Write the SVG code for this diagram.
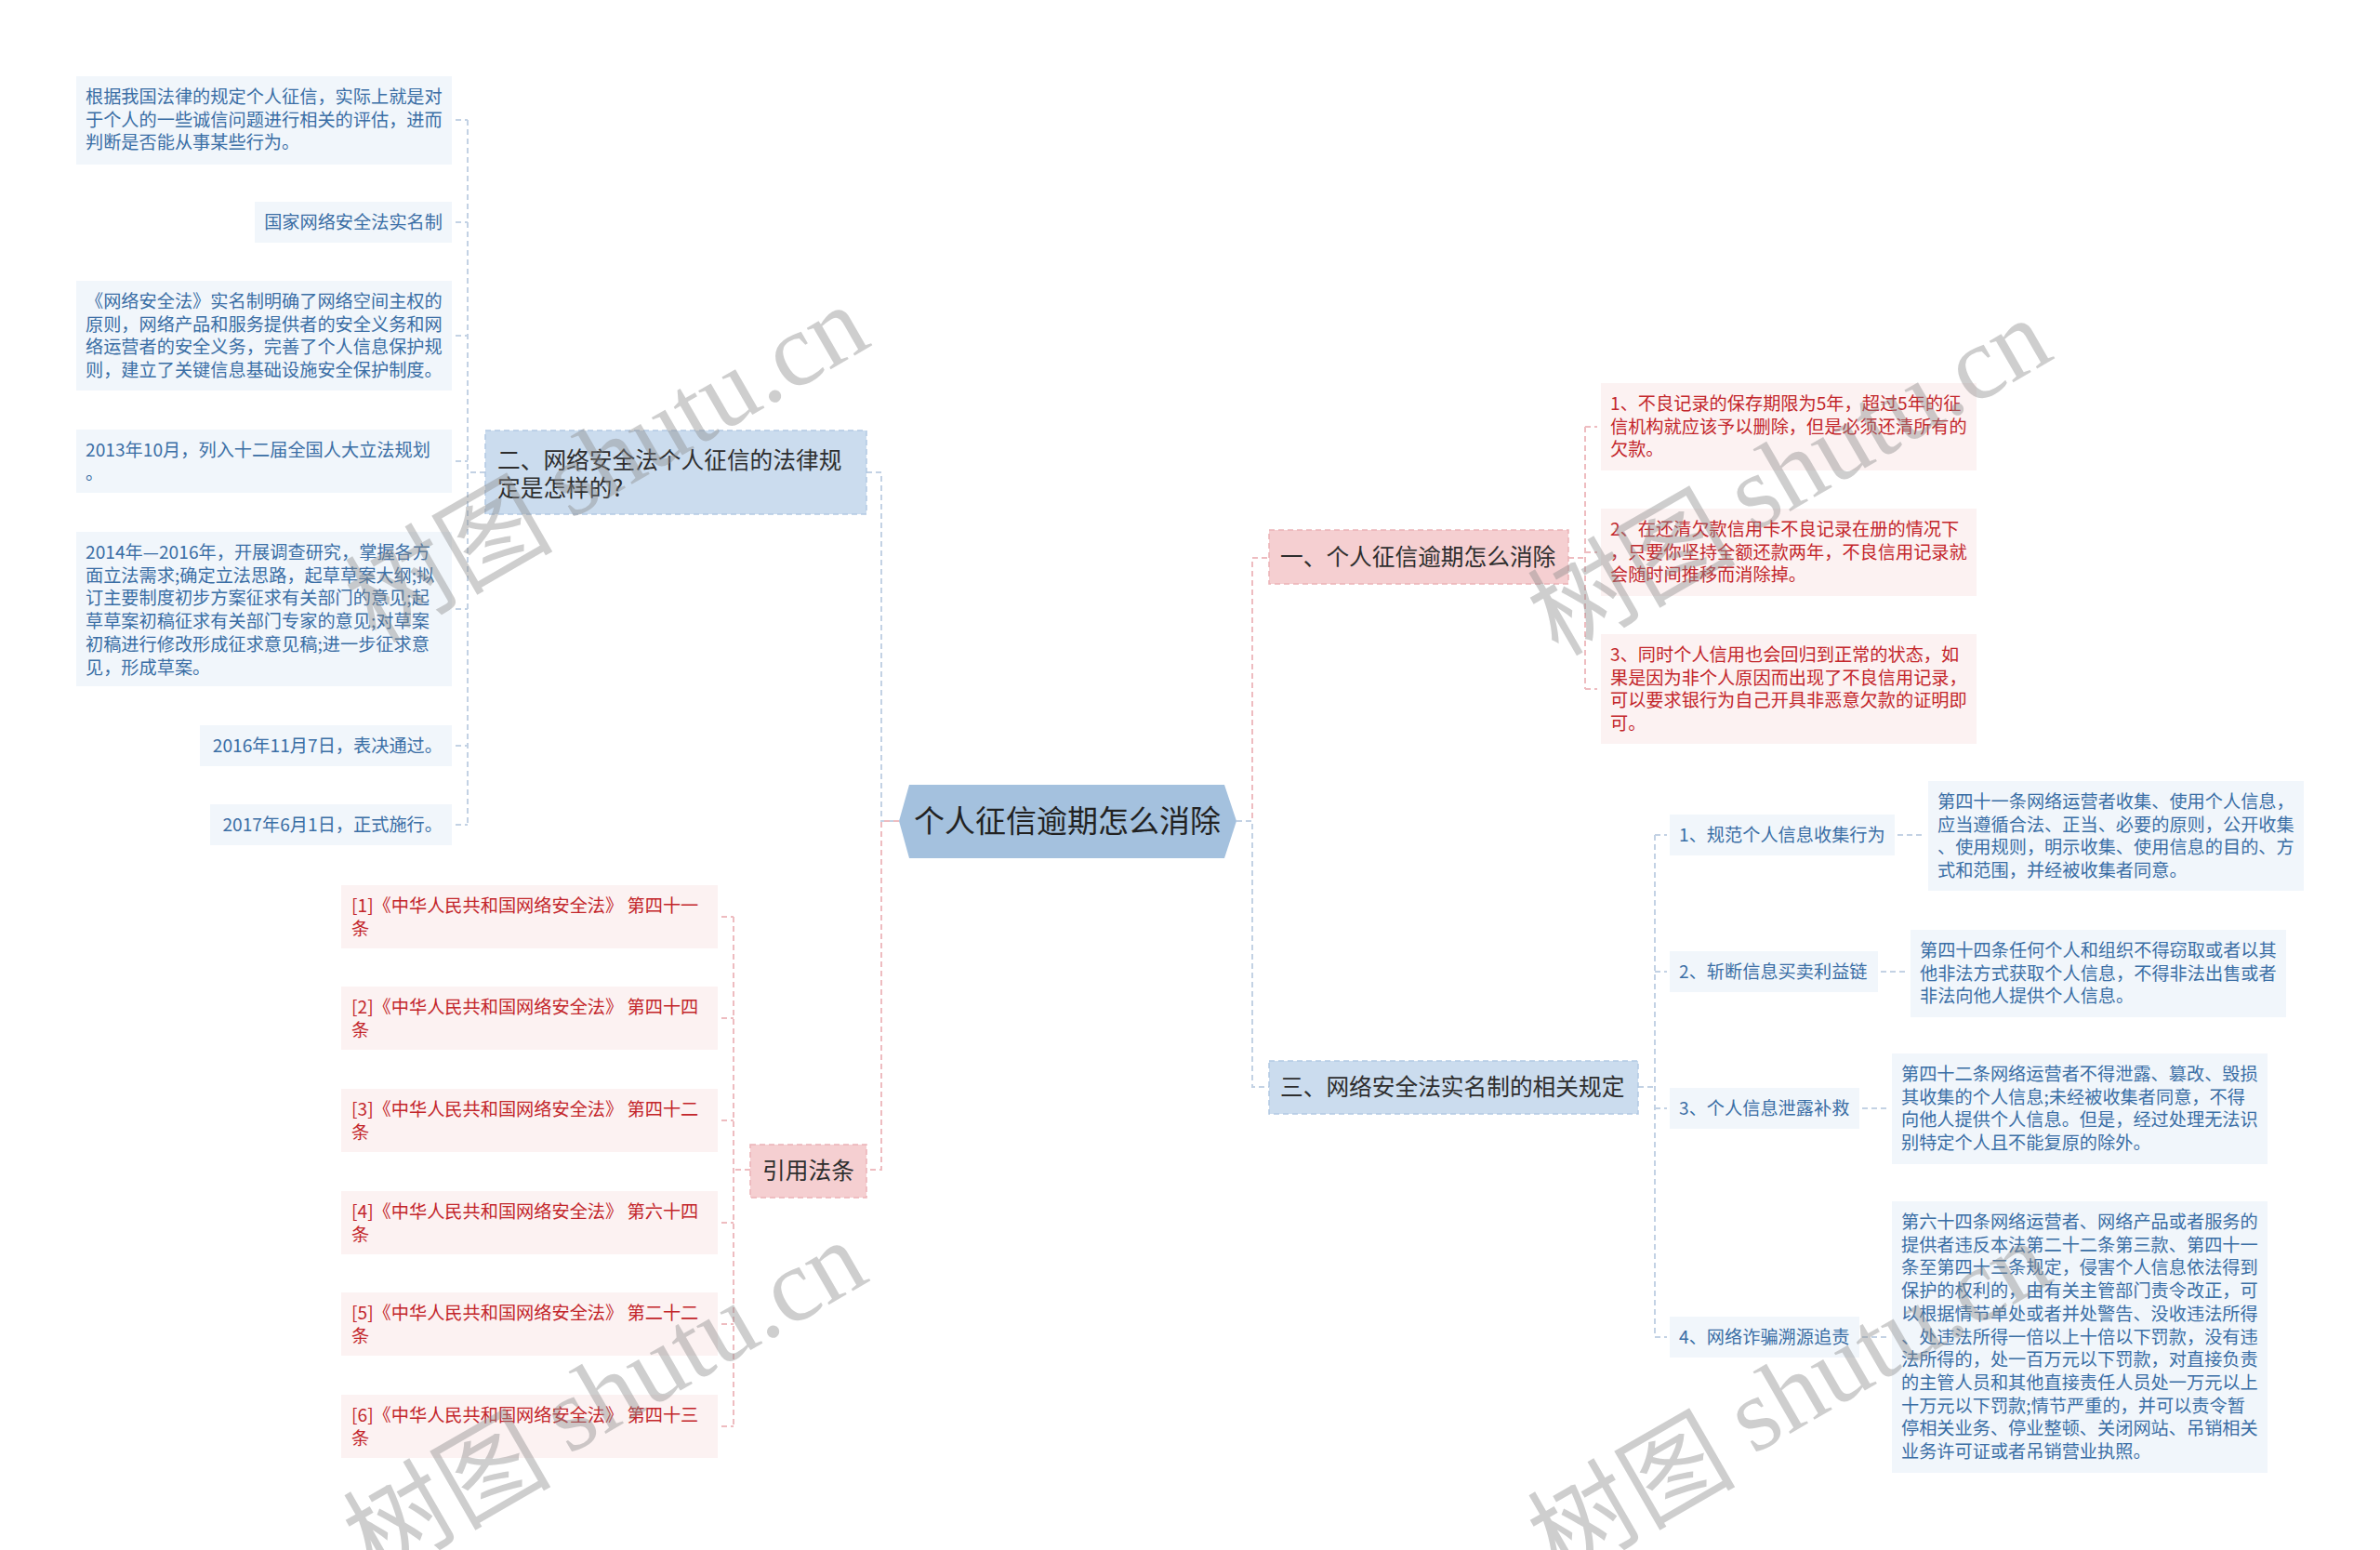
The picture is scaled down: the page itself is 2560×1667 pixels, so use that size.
<svg xmlns="http://www.w3.org/2000/svg" width="2560" height="1667" viewBox="0 0 2560 1667">
<style>
text{font-family:"Noto Sans CJK SC","Noto Sans",sans-serif;}
.bleaf{fill:#f1f6fb;}
.rleaf{fill:#fcf2f2;}
.bt{font-size:19.2px;fill:#3a6ea5;}
.rt{font-size:19.2px;fill:#c3262b;}
.l1b{fill:#cbdcee;stroke:#b2c9e3;stroke-width:1.5;stroke-dasharray:6 4;}
.l1r{fill:#f5cfd1;stroke:#ecb3b7;stroke-width:1.5;stroke-dasharray:6 4;}
.l1t{font-size:24.7px;fill:#2e2e2e;}
.cb{fill:none;stroke:#c3d2e4;stroke-width:2;stroke-dasharray:6 4;}
.cr{fill:none;stroke:#eebcc0;stroke-width:2;stroke-dasharray:6 4;}
.wm{font-family:"Noto Sans CJK SC","Liberation Serif",serif;font-size:112px;fill:#8a8a8a;fill-opacity:0.42;}
</style>

<g id="connectors">
  <!-- central left -->
  <path class="cb" d="M932 508 H948 V883 H967"/>
  <path class="cr" d="M967 883 H948 V1258 H932"/>
  <!-- central right -->
  <path class="cr" d="M1330 883 H1347 V600 H1365"/>
  <path class="cb" d="M1330 883 H1347 V1169 H1365"/>
  <!-- 二 children -->
  <path class="cb" d="M522 508 H503"/>
  <path class="cb" d="M503 129 V887"/>
  <path class="cb" d="M490 129 H503 M490 239 H503 M490 361 H503 M490 496 H503 M490 655 H503 M490 802 H503 M490 887 H503"/>
  <!-- 引用法条 children -->
  <path class="cr" d="M807 1258 H789"/>
  <path class="cr" d="M789 986 V1534"/>
  <path class="cr" d="M776 986 H789 M776 1095 H789 M776 1205 H789 M776 1315 H789 M776 1424 H789 M776 1534 H789"/>
  <!-- 一 children -->
  <path class="cr" d="M1687 600 H1705"/>
  <path class="cr" d="M1705 459 V741"/>
  <path class="cr" d="M1705 459 H1718 M1705 594 H1718 M1705 741 H1718"/>
  <!-- 三 children -->
  <path class="cb" d="M1762 1169 H1780"/>
  <path class="cb" d="M1780 898 V1438"/>
  <path class="cb" d="M1780 898 H1793 M1780 1045 H1793 M1780 1192 H1793 M1780 1438 H1793"/>
  <path class="cb" d="M2041 898 H2071 M2023 1045 H2052 M2003 1192 H2032 M2003 1438 H2032"/>
</g>

<g id="center">
  <polygon points="967,883 978,844 1317,844 1330,883 1317,923 978,923" fill="#a4c1de"/>
  <text x="1148" y="895" text-anchor="middle" style="font-size:33px;fill:#222">个人征信逾期怎么消除</text>
</g>

<g id="n2">
  <rect class="l1b" x="522" y="463" width="410" height="90"/>
  <text class="l1t"><tspan x="535" y="503.5">二、网络安全法个人征信的法律规</tspan><tspan x="535" y="533.5">定是怎样的?</tspan></text>
</g>
<g id="n2-1">
  <rect class="bleaf" x="82" y="82" width="404" height="95"/>
  <text class="bt"><tspan x="92" y="111">根据我国法律的规定个人征信，实际上就是对</tspan><tspan x="92" y="135.7">于个人的一些诚信问题进行相关的评估，进而</tspan><tspan x="92" y="160.4">判断是否能从事某些行为。</tspan></text>
</g>
<g id="n2-2">
  <rect class="bleaf" x="274" y="217" width="212" height="44"/>
  <text class="bt" x="476" y="246" text-anchor="end">国家网络安全法实名制</text>
</g>
<g id="n2-3">
  <rect class="bleaf" x="82" y="302" width="404" height="118"/>
  <text class="bt"><tspan x="92" y="331">《网络安全法》实名制明确了网络空间主权的</tspan><tspan x="92" y="355.7">原则，网络产品和服务提供者的安全义务和网</tspan><tspan x="92" y="380.4">络运营者的安全义务，完善了个人信息保护规</tspan><tspan x="92" y="405.1">则，建立了关键信息基础设施安全保护制度。</tspan></text>
</g>
<g id="n2-4">
  <rect class="bleaf" x="82" y="462" width="404" height="68"/>
  <text class="bt"><tspan x="92" y="491">2013年10月，列入十二届全国人大立法规划</tspan><tspan x="92" y="515.7">。</tspan></text>
</g>
<g id="n2-5">
  <rect class="bleaf" x="82" y="572" width="404" height="166"/>
  <text class="bt"><tspan x="92" y="601">2014年—2016年，开展调查研究，掌握各方</tspan><tspan x="92" y="625.7">面立法需求;确定立法思路，起草草案大纲;拟</tspan><tspan x="92" y="650.4">订主要制度初步方案征求有关部门的意见;起</tspan><tspan x="92" y="675.1">草草案初稿征求有关部门专家的意见;对草案</tspan><tspan x="92" y="699.8">初稿进行修改形成征求意见稿;进一步征求意</tspan><tspan x="92" y="724.5">见，形成草案。</tspan></text>
</g>
<g id="n2-6">
  <rect class="bleaf" x="215" y="780" width="271" height="44"/>
  <text class="bt" x="476" y="809" text-anchor="end">2016年11月7日，表决通过。</text>
</g>
<g id="n2-7">
  <rect class="bleaf" x="226" y="865" width="260" height="44"/>
  <text class="bt" x="476" y="894" text-anchor="end">2017年6月1日，正式施行。</text>
</g>

<g id="refs">
  <rect class="l1r" x="807" y="1231" width="125" height="57"/>
  <text class="l1t" x="869.5" y="1268" text-anchor="middle">引用法条</text>
</g>
<g id="ref1">
  <rect class="rleaf" x="367" y="952" width="405" height="68"/>
  <text class="rt"><tspan x="378" y="981">[1]《中华人民共和国网络安全法》 第四十一</tspan><tspan x="378" y="1005.7">条</tspan></text>
</g>
<g id="ref2">
  <rect class="rleaf" x="367" y="1061" width="405" height="68"/>
  <text class="rt"><tspan x="378" y="1090">[2]《中华人民共和国网络安全法》 第四十四</tspan><tspan x="378" y="1114.7">条</tspan></text>
</g>
<g id="ref3">
  <rect class="rleaf" x="367" y="1171" width="405" height="68"/>
  <text class="rt"><tspan x="378" y="1200">[3]《中华人民共和国网络安全法》 第四十二</tspan><tspan x="378" y="1224.7">条</tspan></text>
</g>
<g id="ref4">
  <rect class="rleaf" x="367" y="1281" width="405" height="68"/>
  <text class="rt"><tspan x="378" y="1310">[4]《中华人民共和国网络安全法》 第六十四</tspan><tspan x="378" y="1334.7">条</tspan></text>
</g>
<g id="ref5">
  <rect class="rleaf" x="367" y="1390" width="405" height="68"/>
  <text class="rt"><tspan x="378" y="1419">[5]《中华人民共和国网络安全法》 第二十二</tspan><tspan x="378" y="1443.7">条</tspan></text>
</g>
<g id="ref6">
  <rect class="rleaf" x="367" y="1500" width="405" height="68"/>
  <text class="rt"><tspan x="378" y="1529">[6]《中华人民共和国网络安全法》 第四十三</tspan><tspan x="378" y="1553.7">条</tspan></text>
</g>

<g id="n1">
  <rect class="l1r" x="1365" y="570" width="322" height="58"/>
  <text class="l1t" x="1377" y="608">一、个人征信逾期怎么消除</text>
</g>
<g id="n1-1">
  <rect class="rleaf" x="1722" y="412" width="404" height="94"/>
  <text class="rt"><tspan x="1732" y="441">1、不良记录的保存期限为5年，超过5年的征</tspan><tspan x="1732" y="465.7">信机构就应该予以删除，但是必须还清所有的</tspan><tspan x="1732" y="490.4">欠款。</tspan></text>
</g>
<g id="n1-2">
  <rect class="rleaf" x="1722" y="547" width="404" height="94"/>
  <text class="rt"><tspan x="1732" y="576">2、在还清欠款信用卡不良记录在册的情况下</tspan><tspan x="1732" y="600.7">，只要你坚持全额还款两年，不良信用记录就</tspan><tspan x="1732" y="625.4">会随时间推移而消除掉。</tspan></text>
</g>
<g id="n1-3">
  <rect class="rleaf" x="1722" y="682" width="404" height="118"/>
  <text class="rt"><tspan x="1732" y="711">3、同时个人信用也会回归到正常的状态，如</tspan><tspan x="1732" y="735.7">果是因为非个人原因而出现了不良信用记录，</tspan><tspan x="1732" y="760.4">可以要求银行为自己开具非恶意欠款的证明即</tspan><tspan x="1732" y="785.1">可。</tspan></text>
</g>

<g id="n3">
  <rect class="l1b" x="1365" y="1141" width="397" height="57"/>
  <text class="l1t" x="1377" y="1178">三、网络安全法实名制的相关规定</text>
</g>
<g id="n3-1">
  <rect class="bleaf" x="1796" y="876" width="242" height="44"/>
  <text class="bt" x="1806" y="905">1、规范个人信息收集行为</text>
</g>
<g id="n3-1-1">
  <rect class="bleaf" x="2074" y="840" width="404" height="118"/>
  <text class="bt"><tspan x="2084" y="869">第四十一条网络运营者收集、使用个人信息，</tspan><tspan x="2084" y="893.7">应当遵循合法、正当、必要的原则，公开收集</tspan><tspan x="2084" y="918.4">、使用规则，明示收集、使用信息的目的、方</tspan><tspan x="2084" y="943.1">式和范围，并经被收集者同意。</tspan></text>
</g>
<g id="n3-2">
  <rect class="bleaf" x="1796" y="1023" width="224" height="44"/>
  <text class="bt" x="1806" y="1052">2、斩断信息买卖利益链</text>
</g>
<g id="n3-2-1">
  <rect class="bleaf" x="2055" y="1000" width="404" height="94"/>
  <text class="bt"><tspan x="2065" y="1029">第四十四条任何个人和组织不得窃取或者以其</tspan><tspan x="2065" y="1053.7">他非法方式获取个人信息，不得非法出售或者</tspan><tspan x="2065" y="1078.4">非法向他人提供个人信息。</tspan></text>
</g>
<g id="n3-3">
  <rect class="bleaf" x="1796" y="1170" width="204" height="44"/>
  <text class="bt" x="1806" y="1199">3、个人信息泄露补救</text>
</g>
<g id="n3-3-1">
  <rect class="bleaf" x="2035" y="1133" width="404" height="119"/>
  <text class="bt"><tspan x="2045" y="1162">第四十二条网络运营者不得泄露、篡改、毁损</tspan><tspan x="2045" y="1186.7">其收集的个人信息;未经被收集者同意，不得</tspan><tspan x="2045" y="1211.4">向他人提供个人信息。但是，经过处理无法识</tspan><tspan x="2045" y="1236.1">别特定个人且不能复原的除外。</tspan></text>
</g>
<g id="n3-4">
  <rect class="bleaf" x="1796" y="1416" width="204" height="44"/>
  <text class="bt" x="1806" y="1445">4、网络诈骗溯源追责</text>
</g>
<g id="n3-4-1">
  <rect class="bleaf" x="2035" y="1292" width="404" height="292"/>
  <text class="bt"><tspan x="2045" y="1321">第六十四条网络运营者、网络产品或者服务的</tspan><tspan x="2045" y="1345.7">提供者违反本法第二十二条第三款、第四十一</tspan><tspan x="2045" y="1370.4">条至第四十三条规定，侵害个人信息依法得到</tspan><tspan x="2045" y="1395.1">保护的权利的，由有关主管部门责令改正，可</tspan><tspan x="2045" y="1419.8">以根据情节单处或者并处警告、没收违法所得</tspan><tspan x="2045" y="1444.5">、处违法所得一倍以上十倍以下罚款，没有违</tspan><tspan x="2045" y="1469.2">法所得的，处一百万元以下罚款，对直接负责</tspan><tspan x="2045" y="1493.9">的主管人员和其他直接责任人员处一万元以上</tspan><tspan x="2045" y="1518.6">十万元以下罚款;情节严重的，并可以责令暂</tspan><tspan x="2045" y="1543.3">停相关业务、停业整顿、关闭网站、吊销相关</tspan><tspan x="2045" y="1568">业务许可证或者吊销营业执照。</tspan></text>
</g>

<g id="watermarks">
  <text class="wm" x="650" y="494" text-anchor="middle" dominant-baseline="central" transform="rotate(-30 650 494)">树图 <tspan style="font-family:'Liberation Serif',serif">shutu.cn</tspan></text>
  <text class="wm" x="648" y="1500" text-anchor="middle" dominant-baseline="central" transform="rotate(-30 648 1500)">树图 <tspan style="font-family:'Liberation Serif',serif">shutu.cn</tspan></text>
  <text class="wm" x="1922" y="508" text-anchor="middle" dominant-baseline="central" transform="rotate(-30 1922 508)">树图 <tspan style="font-family:'Liberation Serif',serif">shutu.cn</tspan></text>
  <text class="wm" x="1922" y="1500" text-anchor="middle" dominant-baseline="central" transform="rotate(-30 1922 1500)">树图 <tspan style="font-family:'Liberation Serif',serif">shutu.cn</tspan></text>
</g>
</svg>
